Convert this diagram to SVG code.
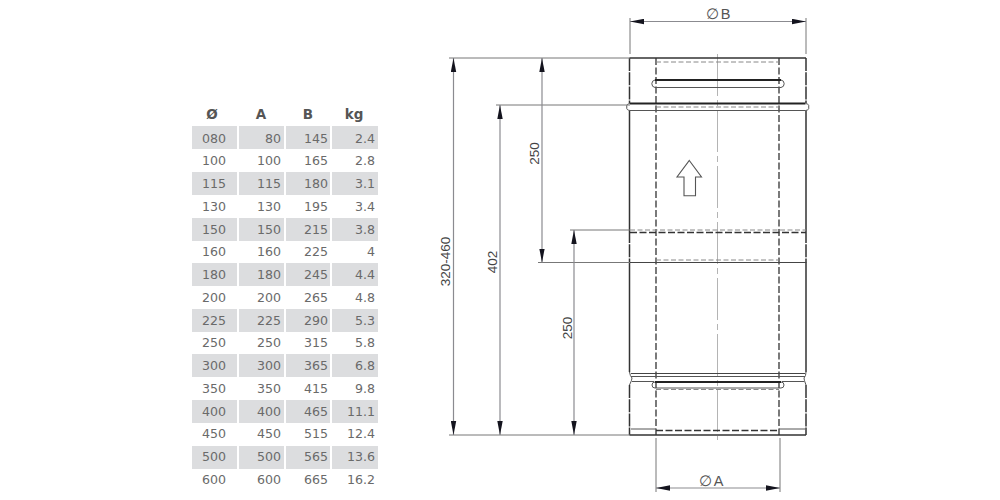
<svg xmlns="http://www.w3.org/2000/svg" width="1000" height="500" viewBox="0 0 1000 500">
<style>
.band{fill:#dcdddf}
.t{font:12.6px "DejaVu Sans",sans-serif;fill:#6a6a6a}
.h{font:bold 13.5px "DejaVu Sans",sans-serif;fill:#555}
.m{text-anchor:middle}
.e{text-anchor:end}
.d{font:13.5px "Liberation Sans",Arial,sans-serif;fill:#444;text-anchor:middle}
.dl{font:14.5px "Liberation Sans",Arial,sans-serif;fill:#555;text-anchor:middle}
.o{fill:none;stroke:#333;stroke-width:1.5}
.s{fill:none;stroke:#444;stroke-width:1.2}
.n{fill:none;stroke:#555;stroke-width:1}
.k{fill:none;stroke:#333;stroke-width:1.3;stroke-dasharray:7 2.5}
.w{fill:none;stroke:#333;stroke-width:1.5;stroke-dasharray:13 1.2}
.g{fill:none;stroke:#888;stroke-width:1;stroke-dasharray:5 2.5}
.c{fill:none;stroke:#b4b4b4;stroke-width:1;stroke-dasharray:42 4 6 4}
.x{fill:none;stroke:#777;stroke-width:1}
.a{fill:none;stroke:#8b8b90;stroke-width:1.2}
</style>
<defs>
<marker id="ah" markerUnits="userSpaceOnUse" markerWidth="14" markerHeight="6" refX="14" refY="3" orient="auto-start-reverse"><path d="M0 0.3L14 3L0 5.7Z" fill="#14141e"/></marker>
</defs>
<g id="table">
<g id="bands">
<rect class="band" x="192" y="126" width="45" height="23"/><rect class="band" x="239" y="126" width="45" height="23"/><rect class="band" x="286" y="126" width="44" height="23"/><rect class="band" x="332" y="126" width="46" height="23"/>
<rect class="band" x="192" y="172" width="45" height="23"/><rect class="band" x="239" y="172" width="45" height="23"/><rect class="band" x="286" y="172" width="44" height="23"/><rect class="band" x="332" y="172" width="46" height="23"/>
<rect class="band" x="192" y="218" width="45" height="23"/><rect class="band" x="239" y="218" width="45" height="23"/><rect class="band" x="286" y="218" width="44" height="23"/><rect class="band" x="332" y="218" width="46" height="23"/>
<rect class="band" x="192" y="263" width="45" height="23"/><rect class="band" x="239" y="263" width="45" height="23"/><rect class="band" x="286" y="263" width="44" height="23"/><rect class="band" x="332" y="263" width="46" height="23"/>
<rect class="band" x="192" y="309" width="45" height="23"/><rect class="band" x="239" y="309" width="45" height="23"/><rect class="band" x="286" y="309" width="44" height="23"/><rect class="band" x="332" y="309" width="46" height="23"/>
<rect class="band" x="192" y="354" width="45" height="23"/><rect class="band" x="239" y="354" width="45" height="23"/><rect class="band" x="286" y="354" width="44" height="23"/><rect class="band" x="332" y="354" width="46" height="23"/>
<rect class="band" x="192" y="400" width="45" height="23"/><rect class="band" x="239" y="400" width="45" height="23"/><rect class="band" x="286" y="400" width="44" height="23"/><rect class="band" x="332" y="400" width="46" height="23"/>
<rect class="band" x="192" y="446" width="45" height="23"/><rect class="band" x="239" y="446" width="45" height="23"/><rect class="band" x="286" y="446" width="44" height="23"/><rect class="band" x="332" y="446" width="46" height="23"/>
</g>
<text class="h m" x="212" y="119">Ø</text><text class="h m" x="261" y="119">A</text><text class="h m" x="308" y="119">B</text><text class="h m" x="354" y="119">kg</text>
<g id="rows">
<text class="t m" x="214" y="143">080</text><text class="t e" x="281" y="143">80</text><text class="t e" x="328" y="143">145</text><text class="t e" x="375" y="143">2.4</text>
<text class="t m" x="214" y="165">100</text><text class="t e" x="281" y="165">100</text><text class="t e" x="328" y="165">165</text><text class="t e" x="375" y="165">2.8</text>
<text class="t m" x="214" y="188">115</text><text class="t e" x="281" y="188">115</text><text class="t e" x="328" y="188">180</text><text class="t e" x="375" y="188">3.1</text>
<text class="t m" x="214" y="211">130</text><text class="t e" x="281" y="211">130</text><text class="t e" x="328" y="211">195</text><text class="t e" x="375" y="211">3.4</text>
<text class="t m" x="214" y="234">150</text><text class="t e" x="281" y="234">150</text><text class="t e" x="328" y="234">215</text><text class="t e" x="375" y="234">3.8</text>
<text class="t m" x="214" y="256">160</text><text class="t e" x="281" y="256">160</text><text class="t e" x="328" y="256">225</text><text class="t e" x="375" y="256">4</text>
<text class="t m" x="214" y="279">180</text><text class="t e" x="281" y="279">180</text><text class="t e" x="328" y="279">245</text><text class="t e" x="375" y="279">4.4</text>
<text class="t m" x="214" y="302">200</text><text class="t e" x="281" y="302">200</text><text class="t e" x="328" y="302">265</text><text class="t e" x="375" y="302">4.8</text>
<text class="t m" x="214" y="325">225</text><text class="t e" x="281" y="325">225</text><text class="t e" x="328" y="325">290</text><text class="t e" x="375" y="325">5.3</text>
<text class="t m" x="214" y="347">250</text><text class="t e" x="281" y="347">250</text><text class="t e" x="328" y="347">315</text><text class="t e" x="375" y="347">5.8</text>
<text class="t m" x="214" y="370">300</text><text class="t e" x="281" y="370">300</text><text class="t e" x="328" y="370">365</text><text class="t e" x="375" y="370">6.8</text>
<text class="t m" x="214" y="393">350</text><text class="t e" x="281" y="393">350</text><text class="t e" x="328" y="393">415</text><text class="t e" x="375" y="393">9.8</text>
<text class="t m" x="214" y="416">400</text><text class="t e" x="281" y="416">400</text><text class="t e" x="328" y="416">465</text><text class="t e" x="375" y="416">11.1</text>
<text class="t m" x="214" y="438">450</text><text class="t e" x="281" y="438">450</text><text class="t e" x="328" y="438">515</text><text class="t e" x="375" y="438">12.4</text>
<text class="t m" x="214" y="461">500</text><text class="t e" x="281" y="461">500</text><text class="t e" x="328" y="461">565</text><text class="t e" x="375" y="461">13.6</text>
<text class="t m" x="214" y="484">600</text><text class="t e" x="281" y="484">600</text><text class="t e" x="328" y="484">665</text><text class="t e" x="375" y="484">16.2</text>
</g>
</g>
<g id="pipe">
<path class="c" d="M717.500 54V440"/>
<path class="o" d="M629.500 58H806"/>
<path class="w" d="M629.500 58V103M806 58V103M629.500 385V435M806 385V435M629.500 230V262.500M806 230V262.500"/>
<path class="o" d="M629.500 110.500V230M806 110.500V230M629.500 262V372M806 262V372"/>
<path class="k" d="M656 58V435M779 58V435"/>
<path class="g" d="M656 62H779"/>
<path d="M655 80H781" fill="none" stroke="#222" stroke-width="2.200"/>
<path class="n" d="M655 87.500H781M655 80A3.800 3.800 0 0 0 655 87.500M781 80A3.800 3.800 0 0 1 781 87.500"/>
<path d="M630 103.500H805.500" fill="none" stroke="#222" stroke-width="1.800"/>
<path class="n" d="M630 110.500H805.500M630 103.500Q626 104 626.800 107Q626 110 630 110.500M805.500 103.500Q809.500 104 808.700 107Q809.500 110 805.500 110.500"/>
<path class="g" d="M656 107H779"/>
<path class="g" d="M630 230H806"/>
<path class="k" d="M630 232.500H806"/>
<path class="g" d="M656 260H779"/>
<path class="s" d="M630 262.500H806"/>
<path class="s" d="M631 373.500H805"/>
<path class="n" d="M631 376.500H805M629.500 372Q630 376 632 378Q632 380 629.500 385M806 372Q806 376 804 378Q804 380 806 385M632 381.500H654M782 381.500H804"/>
<path d="M655 382H781" fill="none" stroke="#222" stroke-width="2"/>
<path class="n" d="M655 388H781M655 382A3 3 0 0 0 655 388M781 382A3 3 0 0 1 781 388"/>
<path class="g" d="M656 389.500H779"/>
<path class="k" d="M656 430.500H779"/>
<path class="n" d="M631 429H656M779 429H805"/>
<path class="o" d="M629.500 435H806"/>
<path id="flow-arrow" fill="#fff" stroke="#555" stroke-width="1.100" d="M689.300 160.500L701.500 177H695.500V195.700H684V177H677Z"/>
</g>
<g id="connectors">
<path class="x" d="M449 58H630M496 105H630M538 262.500H630M570 230H630M449 435H630"/>
<path class="x" d="M630 18V54M806 18V54M656 438V492M780 438V492"/>
<path class="a" d="M453.500 58V435" marker-start="url(#ah)" marker-end="url(#ah)"/>
<path class="a" d="M500 105V435" marker-start="url(#ah)" marker-end="url(#ah)"/>
<path class="a" d="M542 58V262.500" marker-start="url(#ah)" marker-end="url(#ah)"/>
<path class="a" d="M574 230V435" marker-start="url(#ah)" marker-end="url(#ah)"/>
<path class="a" d="M630 21.500H806" marker-start="url(#ah)" marker-end="url(#ah)"/>
<path class="a" d="M656 488H780" marker-start="url(#ah)" marker-end="url(#ah)"/>
</g>
<g id="labels">
<text class="d" transform="translate(450 261.500) rotate(-90)">320-460</text>
<text class="d" transform="translate(497 262) rotate(-90)">402</text>
<text class="d" transform="translate(539 153.500) rotate(-90)">250</text>
<text class="d" transform="translate(572 328) rotate(-90)">250</text>
<text class="dl" x="718" y="19">∅<tspan dx="2">B</tspan></text>
<text class="dl" x="711" y="486">∅<tspan dx="2">A</tspan></text>
</g>
</svg>
